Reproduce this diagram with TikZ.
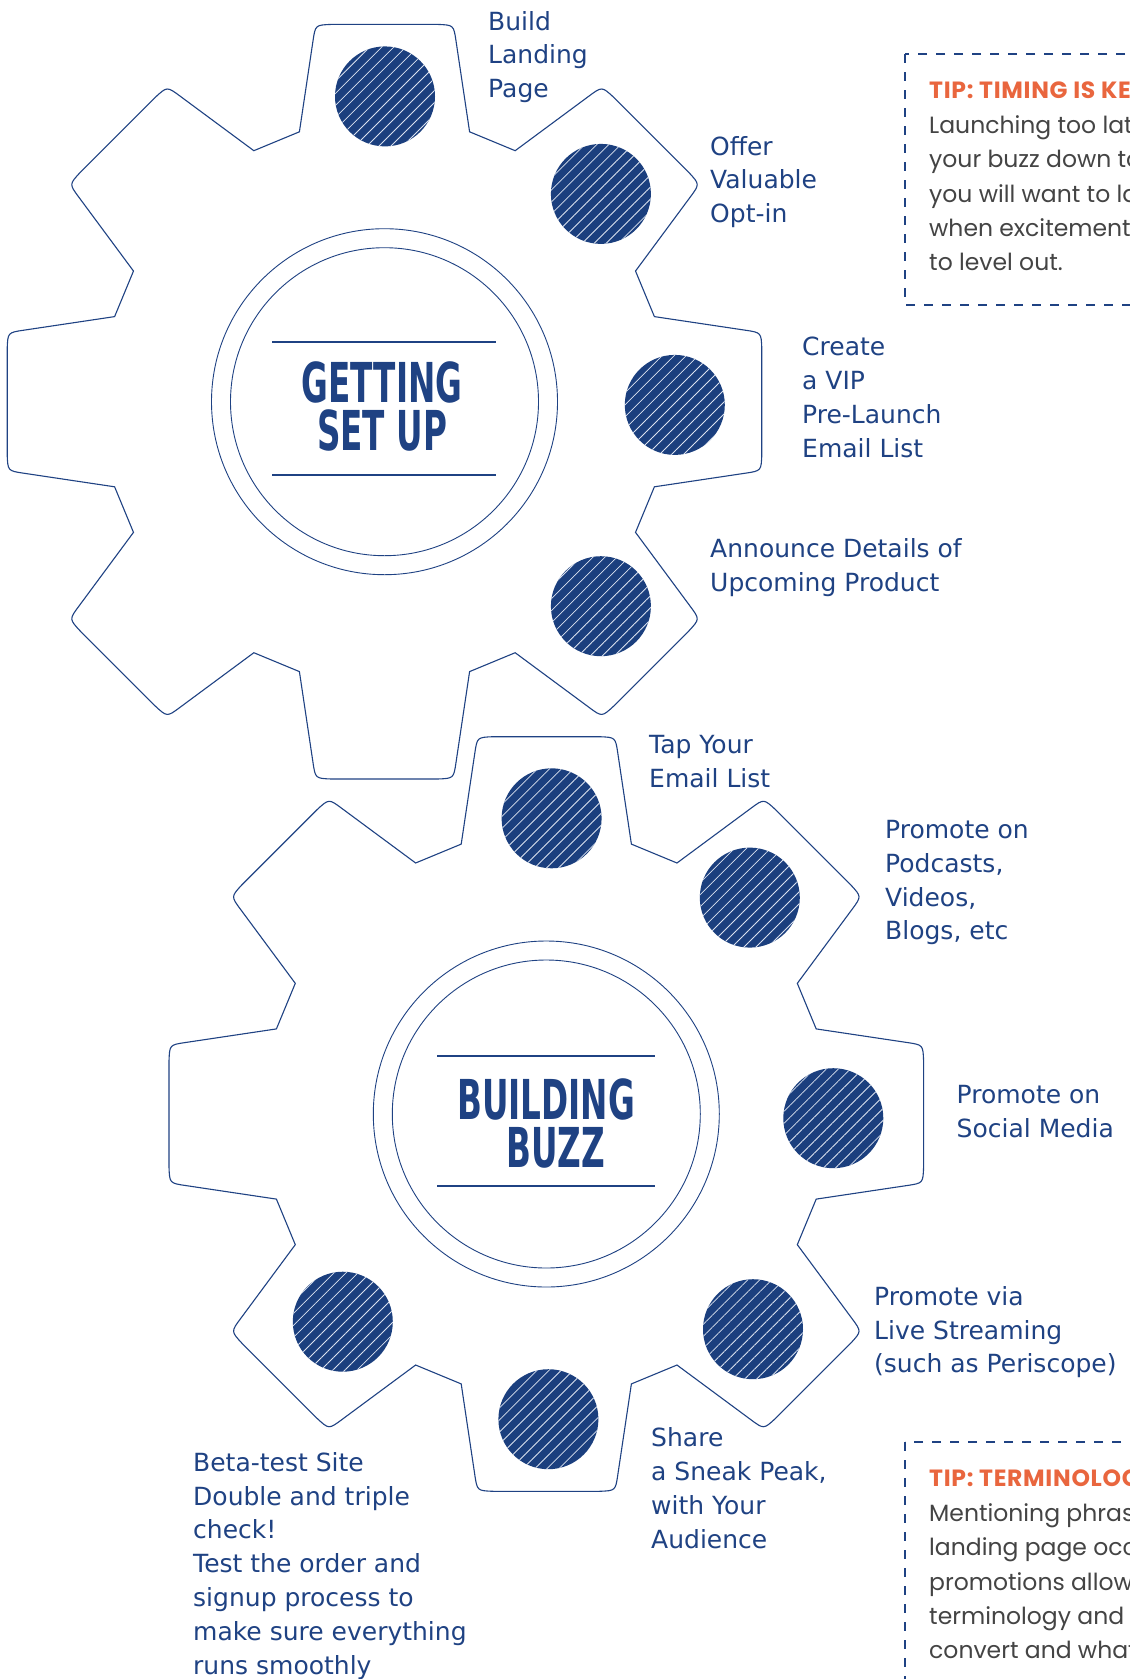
\documentclass[tikz,border=0pt]{standalone}
\usepackage{fontspec}
\usetikzlibrary{patterns.meta}
\newfontfamily\handfont{DejaVu Sans}
\newfontfamily\tipfont{Poppins}
\newfontfamily\titlefont{DejaVu Sans Condensed Bold}
\definecolor{colgear}{HTML}{1F4283}
\definecolor{coldot}{HTML}{1B3F7E}
\definecolor{colhatch}{HTML}{DCE3F0}
\definecolor{coltip}{HTML}{E9663E}
\definecolor{coltext}{HTML}{444444}
\newcommand{\narrowcaps}[1]{\scalebox{0.66}[1]{#1}}
\newcommand{\tiphead}[1]{{\bfseries\addfontfeature{LetterSpace=3}\color{coltip}#1}}
\tikzset{
    gear line/.style={draw=colgear, line width=1.1pt, fill=white},
    ring/.style={draw=colgear, line width=0.9pt},
    title rule/.style={draw=colgear, line width=2pt},
    title/.style={font=\titlefont\fontsize{55}{48}\selectfont,
        text=colgear, align=center, inner sep=0pt},
    bullet/.style={circle, inner sep=0pt, minimum size=100pt, fill=coldot,
        postaction={pattern={Lines[angle=45, distance=8.5pt, line width=0.8pt]},
        pattern color=colhatch}},
    step label/.style={font=\handfont\fontsize{25}{33.8}\selectfont,
        text=colgear, align=left, anchor=north west, inner sep=0pt},
    tip box/.style={draw=colgear, line width=2.3pt, dash pattern=on 9pt off 9pt},
    tip text/.style={font=\tipfont\fontsize{23.5}{34.4}\selectfont,
        text=coltext, align=left, anchor=north west, inner sep=0pt},
    gear/.pic={
        \draw[gear line] (-17.5:283)
            \foreach \a in {0,45,...,315} {
                -- (\a-17.5:283) -- (\a-11.2:368) .. controls (\a-10.4:383) .. (\a-8:381)
                -- (\a+8:381) .. controls (\a+10.4:383) .. (\a+11.2:368) -- (\a+17.5:283)
            } -- cycle;
        \draw[ring] (0,0) circle[radius=173];
        \draw[ring] (0,0) circle[radius=154];
    },
}

\begin{document}
\begin{tikzpicture}[x=1pt, y=-1pt]

\path[use as bounding box, fill=white] (0,0) rectangle (1130,1679);

% ===== GEARS =====
\pic (setgear) at (384.5,401.7) {gear};
\pic (buzzgear) at (546.3,1114) {gear};

% ===== TITLES =====
\node[title] (settitle) at (382,406) {\narrowcaps{GETTING}\\\narrowcaps{SET UP}};
\draw[title rule] (272,341.7) -- (496,341.7);
\draw[title rule] (272,474.7) -- (496,474.7);
\node[title] (buzztitle) at (546,1123) {\narrowcaps{BUILDING}\\\hspace*{19pt}\narrowcaps{BUZZ}};
\draw[title rule] (437,1056) -- (655,1056);
\draw[title rule] (437,1185.7) -- (655,1185.7);

% ===== BULLETS =====
\node[bullet] (dotland) at (385,96.4) {};
\node[bullet] (dotoptin) at (600.9,193.9) {};
\node[bullet] (dotvip) at (674.8,404.9) {};
\node[bullet] (dotannounce) at (600.9,606.2) {};
\node[bullet] (dottap) at (551.6,818.3) {};
\node[bullet] (dotpodcast) at (749.8,897.6) {};
\node[bullet] (dotsocial) at (833.3,1118.2) {};
\node[bullet] (dotlive) at (753,1329.2) {};
\node[bullet] (dotsneak) at (548.4,1419.2) {};
\node[bullet] (dotbeta) at (342.8,1321.7) {};

% ===== STEP LABELS =====
\node[step label] (lbland) at (488,11) {Build\\Landing\\Page};
\node[step label] (lboptin) at (710,136) {Offer\\Valuable\\Opt-in};
\node[step label] (lbvip) at (802,337) {Create\\a VIP\\Pre-Launch\\Email List};
\node[step label] (lbannounce) at (710,538.5) {Announce Details of\\Upcoming Product};
\node[step label] (lbtap) at (649,735.5) {Tap Your\\Email List};
\node[step label] (lbpodcast) at (885,820) {Promote on\\Podcasts,\\Videos,\\Blogs, etc};
\node[step label] (lbsocial) at (956.5,1085) {Promote on\\Social Media};
\node[step label] (lblive) at (874,1286) {Promote via\\Live Streaming\\(such as Periscope)};
\node[step label] (lbsneak) at (651,1427.5) {Share\\a Sneak Peak,\\with Your\\Audience};
\node[step label] (lbbeta) at (193,1452) {Beta-test Site\\Double and triple\\check!\\Test the order and\\signup process to\\make sure everything\\runs smoothly};

% ===== TIPS =====
\draw[tip box] (905,54) rectangle (1160,305);
\node[tip text] (tiptiming) at (929,82) {\tiphead{TIP: TIMING IS KEY}\\Launching too late\\your buzz down to\\you will want to launch\\when excitement\\to level out.};
\draw[tip box] (905,1442) rectangle (1160,1700);
\node[tip text] (tipterms) at (929,1470) {\tiphead{TIP: TERMINOLOGY}\\Mentioning phrases\\landing page occurs\\promotions allows\\terminology and\\convert and what};

\end{tikzpicture}
\end{document}
